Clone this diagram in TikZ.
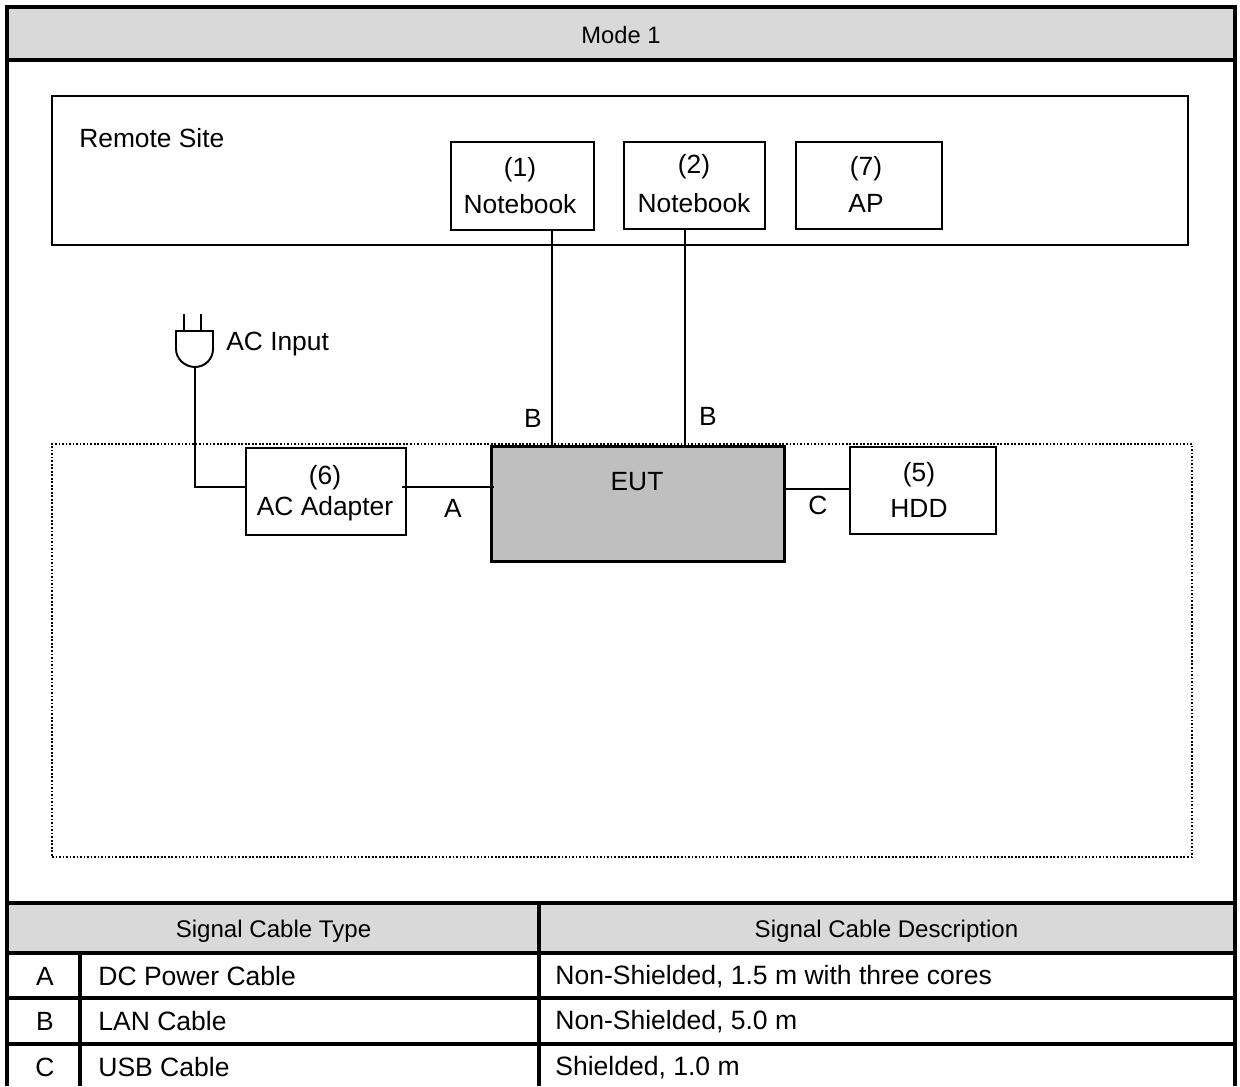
\documentclass[tikz,border=0pt]{standalone}
\usepackage{fontspec}
\setmainfont{Liberation Sans}
\usepackage{xcolor}
\usetikzlibrary{positioning}
\definecolor{headGray}{HTML}{D9D9D9}
\definecolor{eutGray}{HTML}{BFBFBF}
\begin{document}
\begin{tikzpicture}[
    x=0.02cm, y=-0.02cm,
    unit/.style={rectangle, draw=black, line width=1.2pt, inner sep=0pt, outer sep=0pt, anchor=north west},
    zone/.style={rectangle, draw=black, line width=1.2pt, inner sep=0pt, outer sep=0pt, anchor=north west},
    cable/.style={line width=1.1pt, black},
    plain/.style={font=\fontsize{15}{19}\selectfont, inner sep=0pt, align=center},
    cell/.style={font=\fontsize{15.1}{19}\selectfont, inner sep=0pt, anchor=west},
    headCell/.style={rectangle, fill=headGray, inner sep=0pt, outer sep=0pt, anchor=north west},
    headText/.style={font=\fontsize{13.7}{16}\selectfont, inner sep=0pt},
    rule/.style={line width=2pt, black}
]
\useasboundingbox (0,0) rectangle (1240,1086);

% Title bar
\node[headCell, minimum width=1230*0.02cm, minimum height=53*0.02cm] (title) at (6,7) {};
\node[headText, font=\fontsize{13.5}{16}\selectfont] (titleText) at (621,35) {Mode 1};

% Remote site
\node[zone, minimum width=1136*0.02cm, minimum height=149*0.02cm] (remote) at (52,96) {};
\node[plain, anchor=west] (remoteText) at (79,138) {Remote Site};
\node[unit, minimum width=143*0.02cm, minimum height=88*0.02cm] (nb1) at (451,142) {};
\node[unit, minimum width=141*0.02cm, minimum height=87*0.02cm] (nb2) at (624,142) {};
\node[unit, minimum width=146*0.02cm, minimum height=87*0.02cm] (ap) at (796,142) {};
\node[plain] (nb1Text) at (520,185.5) {(1)\\[2pt]Notebook};
\node[plain] (nb2Text) at (694,183.5) {(2)\\[3pt]Notebook};
\node[plain] (apText) at (866,184.5) {(7)\\[2pt]AP};

% Test site
\node[zone, dotted, line width=1.1pt, dash pattern=on 1pt off 1pt, minimum width=1140*0.02cm, minimum height=413*0.02cm] (site) at (52,444) {};
\node[unit, minimum width=160*0.02cm, minimum height=87*0.02cm] (adapter) at (246,448) {};
\node[unit, fill=eutGray, line width=1.7pt, minimum width=293*0.02cm, minimum height=115*0.02cm] (eut) at (491,446) {};
\node[unit, minimum width=146*0.02cm, minimum height=87*0.02cm] (hdd) at (850,447) {};
\node[plain] (adapterText) at (325,493) {(6)\\[-1pt]AC Adapter};
\node[plain] (eutText) at (637,482) {EUT};
\node[plain] (hddText) at (919,490) {(5)\\[1.5pt]HDD};

% Plug
\coordinate (plug) at (195,367);
\draw[cable] (184,314) -- (184,331) (201,314) -- (201,331);
\draw[cable] (176,331) -- (213,331) -- (213,349) .. controls (213,359) and (205,367) .. (plug) .. controls (185,367) and (176,359) .. (176,349) -- cycle;
\node[plain, anchor=west] (acText) at (226,344) {AC Input};

% Cables
\coordinate (lan1) at (552,446);
\coordinate (lan2) at (685,446);
\coordinate (dcIn) at (245,487);
\coordinate (dcOut) at (402,487);
\coordinate (dcEnd) at (494,487);
\coordinate (usbOut) at (784,489);
\draw[cable] (plug) |- (dcIn);
\draw[cable] (dcOut) -- (dcEnd);
\draw[cable] (nb1.south -| lan1) -- (lan1);
\draw[cable] (nb2.south -| lan2) -- (lan2);
\draw[cable] (usbOut) -- (hdd.west |- usbOut);

% Cable labels
\node[plain] (labA) at (453,508) {A};
\node[plain] (labB1) at (533,418) {B};
\node[plain] (labB2) at (708,416) {B};
\node[plain] (labC) at (818,505) {C};

% Table
\node[headCell, minimum width=533*0.02cm, minimum height=49*0.02cm] (typeHead) at (6,904) {};
\node[headCell, minimum width=697*0.02cm, minimum height=49*0.02cm] (descHead) at (539,904) {};
\node[headText] (typeText) at (273.5,931) {Signal Cable Type};
\node[headText] (descText) at (886.5,931) {Signal Cable Description};

\node[plain] (rowA) at (45,976) {A};
\node[plain] (rowB) at (45,1021) {B};
\node[plain] (rowC) at (45,1067) {C};
\node[cell] (typeA) at (98,976) {DC Power Cable};
\node[cell] (typeB) at (98,1021) {LAN Cable};
\node[cell] (typeC) at (98,1067) {USB Cable};
\node[cell] (descA) at (555,977) {Non-Shielded, 1.5 m with three cores};
\node[cell] (descB) at (555,1022) {Non-Shielded, 5.0 m};
\node[cell] (descC) at (555,1068) {Shielded, 1.0 m};

% Table and frame lines
\draw[rule] (7,1086) -- (7,7) -- (1235,7) -- (1235,1086);
\draw[rule] (7,60) -- (1235,60);
\draw[rule] (7,903) -- (1235,903);
\draw[rule] (7,953) -- (1235,953);
\draw[rule] (7,998) -- (1235,998);
\draw[rule] (7,1044) -- (1235,1044);
\draw[rule] (80,953) -- (80,1086);
\draw[rule] (539,903) -- (539,1086);
\end{tikzpicture}
\end{document}
